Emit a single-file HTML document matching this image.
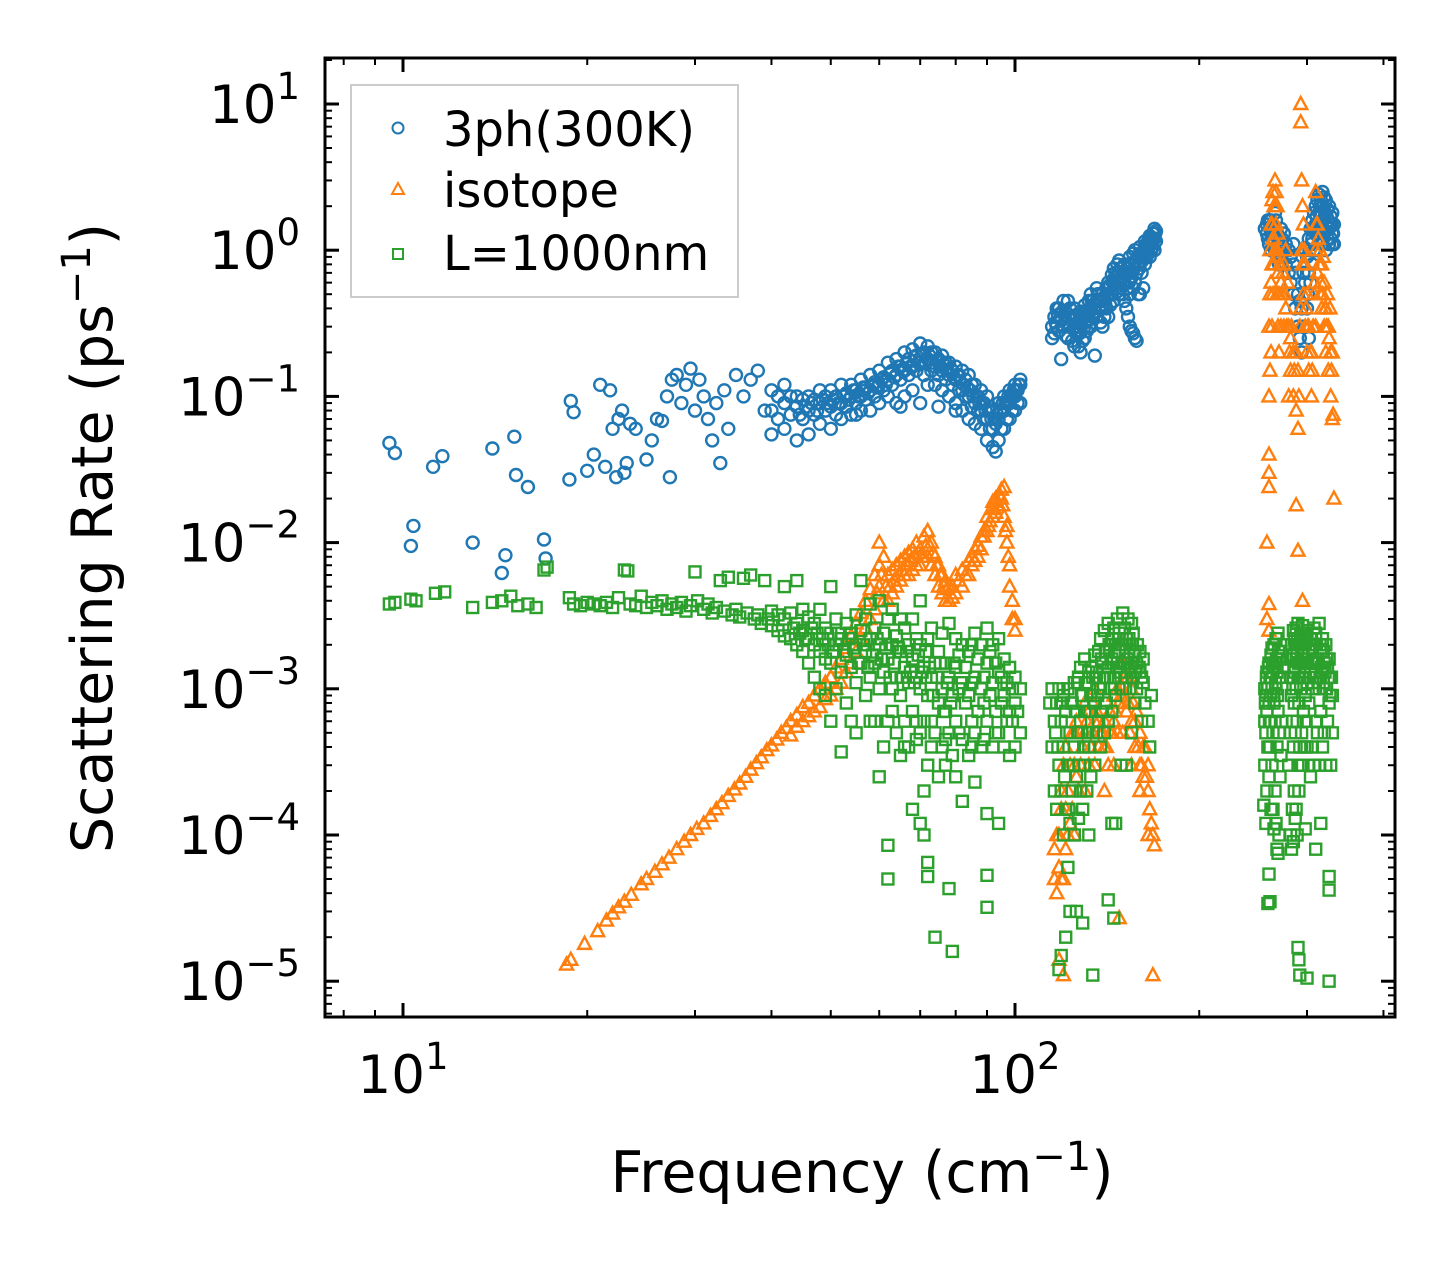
<!DOCTYPE html>
<html><head><meta charset="utf-8">
<style>
html,body{margin:0;padding:0;background:#fff;}
svg{display:block;}
text{font-family:"DejaVu Sans","Liberation Sans",sans-serif;fill:#000;}
</style></head>
<body>
<svg id="chart" width="1455" height="1265" viewBox="0 0 1455 1265" xmlns="http://www.w3.org/2000/svg">
<rect x="0" y="0" width="1455" height="1265" fill="#fff"/>
<g id="marks"></g>
<g id="axes"></g>
<rect x="325" y="58" width="1070" height="959" fill="none" stroke="#000" stroke-width="3"/>
<text x="0" y="0" transform="translate(112,538) rotate(-90)" text-anchor="middle" font-size="57">Scattering Rate (ps<tspan dy="-22" font-size="40">−1</tspan><tspan dy="22">)</tspan></text>
<text x="862" y="1192" text-anchor="middle" font-size="57">Frequency (cm<tspan dy="-22" font-size="40">−1</tspan><tspan dy="22">)</tspan></text>
<g>
<rect x="351" y="85" width="387" height="212" fill="#fff" fill-opacity="0.8" stroke="#ccc" stroke-width="2"/>
<circle cx="398" cy="128" r="5.5" fill="none" stroke="#1f77b4" stroke-width="2"/>
<text x="443" y="146" font-size="48">3ph(300K)</text>
<polygon points="398,183 404,194 392,194" fill="none" stroke="#ff7f0e" stroke-width="2"/>
<text x="443" y="207" font-size="48">isotope</text>
<rect x="393" y="249" width="10" height="10" fill="none" stroke="#2ca02c" stroke-width="2"/>
<text x="443" y="270" font-size="48">L=1000nm</text>
</g>
</svg>
<script>
const xMajorTicks = [10, 100];
const xMinorTicks = [8, 9, 20, 30, 40, 50, 60, 70, 80, 90, 200, 300, 400];
const yExponents = [1, 0, -1, -2, -3, -4, -5];

const pts3ph = [
[9.5,0.048],[9.7,0.041],[10.3,0.0095],[10.4,0.013],[11.2,0.033],[11.6,0.039],[13,0.010],[14,0.044],[14.5,0.0062],[14.7,0.0082],[15.2,0.053],[15.3,0.029],[16,0.024],[17,0.0105],[17.1,0.0078],[18.7,0.027],[18.8,0.093],[19,0.078],[20,0.031],[20.5,0.04],[21,0.12],[21.4,0.033],[21.8,0.11],[22,0.06],[22.3,0.028],[22.5,0.07],[22.8,0.08],[23,0.03],[23.2,0.035],[23.5,0.065],[24,0.06],[25,0.037],[25.5,0.05],[26,0.07],[26.5,0.068],[27,0.1],[27.3,0.028],[27.5,0.13],[28,0.14],[28.5,0.09],[29,0.12],[29.5,0.155],[30,0.08],[30.5,0.13],[31,0.1],[31.5,0.07],[32,0.05],[32.5,0.09],[33,0.035],[33.5,0.11],[34,0.06],[35,0.14],[36,0.1],[37,0.13],[38,0.15],[39,0.08],
[40,0.055],[40,0.08],[40,0.11],[41,0.07],[41,0.1],[42,0.06],[42,0.09],[42,0.12],[43,0.075],[43,0.1],[44,0.05],[44,0.085],[44,0.1],[45,0.07],[45,0.095],[46,0.055],[46,0.08],[46,0.1],[47,0.075],[47,0.095],[48,0.065],[48,0.09],[48,0.11],[49,0.08],[49,0.1],[50,0.06],[50,0.085],[50,0.11],[51,0.075],[51,0.1],[52,0.07],[52,0.09],[52,0.12],[53,0.085],[53,0.105],[54,0.075],[54,0.1],[54,0.12],[55,0.075],[55,0.09],[55,0.11],[56,0.08],[56,0.1],[56,0.13],[57,0.095],[57,0.115],[58,0.08],[58,0.11],[58,0.14],[59,0.1],[59,0.125],[60,0.09],[60,0.12],[60,0.15],[61,0.11],[61,0.135],[62,0.1],[62,0.13],[62,0.17],[63,0.12],[63,0.15],[64,0.09],[64,0.14],[64,0.18],[65,0.085],[65,0.13],[65,0.16],[66,0.1],[66,0.15],[66,0.2],[67,0.14],[67,0.18],[68,0.11],[68,0.16],[68,0.21],[69,0.15],[69,0.19],[70,0.09],[70,0.17],[70,0.23],[71,0.14],[71,0.2],[72,0.12],[72,0.18],[72,0.22],[73,0.15],[73,0.2],[74,0.12],[74,0.16],[74,0.2],[75,0.085],[75,0.14],[75,0.18],[76,0.11],[76,0.15],[76,0.19],[77,0.13],[77,0.17],[78,0.1],[78,0.14],[78,0.17],[79,0.12],[79,0.15],[80,0.08],[80,0.09],[80,0.13],[80,0.16],[81,0.11],[81,0.14],[82,0.08],[82,0.11],[82,0.15],[83,0.1],[83,0.13],[84,0.07],[84,0.1],[84,0.14],[85,0.085],[85,0.12],[86,0.065],[86,0.09],[86,0.12],[87,0.08],[87,0.1],[88,0.06],[88,0.08],[88,0.11],[89,0.07],[89,0.09],[90,0.05],[90,0.07],[90,0.1],[91,0.06],[91,0.085],[92,0.045],[92,0.06],[92,0.08],[93,0.042],[93,0.065],[94,0.05],[94,0.07],[94,0.09],[95,0.06],[95,0.08],[96,0.06],[96,0.08],[96,0.1],[97,0.07],[97,0.09],[98,0.07],[98,0.09],[98,0.11],[99,0.08],[99,0.1],[100,0.08],[100,0.1],[100,0.12],[101,0.09],[101,0.11],[102,0.09],[102,0.12],[102,0.13],
[115,0.25],[115,0.3],[116,0.27],[116,0.35],[117,0.3],[117,0.4],[118,0.28],[118,0.4],[119,0.18],[119,0.33],[120,0.3],[120,0.45],[121,0.26],[121,0.38],[122,0.25],[122,0.35],[122,0.45],[123,0.3],[123,0.4],[124,0.24],[124,0.34],[125,0.22],[125,0.3],[125,0.4],[126,0.27],[126,0.36],[127,0.22],[127,0.32],[128,0.2],[128,0.28],[128,0.38],[129,0.24],[129,0.34],[130,0.25],[130,0.32],[130,0.42],[131,0.28],[131,0.38],[132,0.3],[132,0.45],[133,0.3],[133,0.4],[133,0.5],[134,0.35],[134,0.45],[135,0.19],[135,0.38],[136,0.35],[136,0.45],[136,0.55],[137,0.4],[137,0.5],[138,0.32],[138,0.45],[139,0.3],[139,0.4],[139,0.5],[140,0.35],[140,0.48],[141,0.4],[141,0.55],[142,0.35],[142,0.5],[142,0.6],[143,0.42],[143,0.58],[144,0.5],[144,0.68],[145,0.45],[145,0.6],[145,0.75],[146,0.55],[146,0.7],[147,0.6],[147,0.8],[148,0.5],[148,0.7],[148,0.85],[149,0.55],[149,0.75],[150,0.5],[150,0.7],[151,0.45],[151,0.6],[151,0.8],[152,0.4],[152,0.7],[153,0.35],[153,0.8],[154,0.3],[154,0.5],[154,0.9],[155,0.28],[155,0.65],[156,0.27],[156,0.55],[156,0.95],[157,0.25],[157,0.6],[157,1.0],[158,0.24],[158,0.7],[159,0.5],[159,0.9],[160,0.5],[160,0.8],[160,1.05],[161,0.7],[161,0.95],[162,0.55],[162,0.9],[163,0.8],[163,1.0],[163,1.15],[164,0.9],[164,1.1],[165,0.95],[165,1.15],[166,0.9],[166,1.1],[166,1.25],[167,1.0],[167,1.2],[168,1.05],[168,1.3],[169,1.0],[169,1.2],[169,1.4],[170,1.15],[170,1.35],
[256,1.4],[258,1.3],[258,1.5],[259,1.2],[260,1.1],[260,1.6],[262,1.0],[262,1.3],[262,1.6],[264,1.1],[264,1.5],[266,1.0],[266,1.4],[266,1.8],[268,0.9],[268,1.3],[270,0.8],[270,1.2],[272,0.9],[272,1.4],[275,1.0],[275,1.3],[277,0.8],[277,1.1],[280,0.7],[280,1.0],[282,0.6],[282,0.9],[285,0.5],[285,0.8],[285,1.1],[287,0.4],[287,0.7],[290,0.3],[290,0.5],[292,0.25],[292,0.45],[294,0.2],[294,0.4],[296,0.3],[296,0.7],[298,0.3],[298,0.6],[298,1.0],[300,0.4],[300,0.9],[302,0.25],[302,0.7],[302,1.2],[304,0.6],[304,1.4],[306,0.8],[306,1.2],[306,1.6],[308,1.0],[308,1.8],[310,1.0],[310,1.5],[310,2.0],[312,1.3],[312,2.2],[314,1.2],[314,1.8],[314,2.4],[316,1.4],[316,2.2],[318,1.1],[318,1.6],[318,2.5],[320,1.3],[320,2.3],[322,1.0],[322,1.5],[322,2.2],[324,1.2],[324,1.9],[326,1.1],[326,1.4],[326,2.0],[328,1.2],[328,1.7],[330,1.1],[330,1.3],[330,1.8],[332,1.1],[332,1.5]
];
const pts3phDense = [
[44.5,0.075],[45.5,0.085],[46.5,0.09],[47.5,0.08],[48.5,0.095],[49.5,0.09],[50.5,0.095],[51.5,0.09],[52.5,0.1],[53.5,0.095],[54.5,0.11],[55.5,0.1],[56.5,0.115],[57.5,0.105],[58.5,0.12],[59.5,0.115],[60.5,0.13],[61.5,0.12],[62.5,0.145],[63.5,0.135],[64.5,0.16],[65.5,0.15],[66.5,0.17],[67.5,0.16],[68.5,0.185],[69.5,0.17],[70.5,0.19],[71.5,0.17],[72.5,0.19],[73.5,0.17],[74.5,0.175],[75.5,0.16],[76.5,0.165],[77.5,0.15],[78.5,0.155],[79.5,0.135],[80.5,0.14],[81.5,0.125],[82.5,0.12],[83.5,0.115],[84.5,0.11],[85.5,0.1],[86.5,0.1],[87.5,0.09],[88.5,0.09],[89.5,0.08],[90.5,0.08],[91.5,0.07],[92.5,0.07],[93.5,0.075],[94.5,0.08],[95.5,0.09],[96.5,0.09],[97.5,0.1],[98.5,0.1],[99.5,0.11],[100.5,0.11],[101.5,0.12],
[116.5,0.32],[117.5,0.36],[118.5,0.34],[119.5,0.38],[120.5,0.36],[121.5,0.32],[122.5,0.3],[123.5,0.35],[124.5,0.29],[125.5,0.35],[126.5,0.3],[127.5,0.27],[128.5,0.33],[129.5,0.29],[130.5,0.37],[131.5,0.33],[132.5,0.38],[133.5,0.45],[134.5,0.4],[135.5,0.42],[136.5,0.5],[137.5,0.45],[138.5,0.4],[139.5,0.45],[140.5,0.42],[141.5,0.48],[142.5,0.55],[143.5,0.5],[144.5,0.6],[145.5,0.65],[146.5,0.62],[147.5,0.7],[148.5,0.6],[149.5,0.65],[150.5,0.6],[151.5,0.7],[152.5,0.55],[153.5,0.6],[154.5,0.7],[155.5,0.8],[156.5,0.75],[157.5,0.85],[158.5,0.9],[159.5,0.75],[160.5,0.95],[161.5,0.85],[162.5,1.0],[163.5,1.05],[164.5,1.0],[165.5,1.05],[166.5,1.2],[167.5,1.1],[168.5,1.2],[169.5,1.3],
[259,1.6],[261,1.4],[263,1.2],[265,1.3],[267,1.6],[269,1.1],[271,1.0],[273,1.2],[301,0.5],[303,1.0],[305,1.1],[307,1.4],[309,1.3],[311,1.7],[313,1.5],[315,2.0],[317,1.8],[319,2.0],[321,1.8],[323,1.7],[325,1.6],[327,1.5],[329,1.5],[331,1.3]
];

const ptsIso = [
[18.5,1.3e-5],[18.8,1.4e-5],[19.8,1.8e-5],[20.8,2.2e-5],[21.5,2.6e-5],[22,2.9e-5],[22.5,3.2e-5],[23,3.5e-5],[23.6,3.9e-5],[24.5,4.6e-5],[25,5e-5],[25.8,5.6e-5],[26.5,6.3e-5],[27.2,7e-5],[28,8e-5],[28.8,9e-5],[29.5,1e-4],[30.2,1.1e-4],[31,1.2e-4],[31.8,1.35e-4],[32.5,1.5e-4],[33.2,1.65e-4],[34,1.85e-4],[34.8,2.05e-4],[35.5,2.25e-4],[36.3,2.5e-4],[37,2.8e-4],[37.8,3.1e-4],[38.5,3.4e-4],[39.3,3.8e-4],[40,4.1e-4],[40.8,4.5e-4],[41.5,5e-4],[42.3,5.4e-4],[43,4.8e-4],[43,6e-4],[44,5.5e-4],[44,6.6e-4],[45,6e-4],[45,7.5e-4],[46,6.5e-4],[46,8e-4],[47,7e-4],[47,9e-4],[48,7.5e-4],[48,1e-3],[49,8.5e-4],[49,1.1e-3],[50,9e-4],[50,1.2e-3],[51,1e-3],[51,1.4e-3],[52,1.1e-3],[52,1.6e-3],[53,1.3e-3],[53,1.9e-3],[54,1.5e-3],[54,2.3e-3],[55,1.8e-3],[55,2.8e-3],[56,2.2e-3],[56,3.3e-3],[57,2.6e-3],[57,4e-3],[58,3e-3],[58,4.8e-3],[59,3.5e-3],[59,6e-3],[60,5e-3],[60,7e-3],[60,1e-2],[61,4e-3],[61,8e-3],[62,4e-3],[62,6e-3],[63,4.5e-3],[63,6.5e-3],[64,5e-3],[64,7e-3],[65,5.5e-3],[65,7.5e-3],[66,6e-3],[66,8e-3],[67,6e-3],[67,8.5e-3],[68,6.5e-3],[68,9e-3],[69,7e-3],[69,1e-2],[70,7e-3],[70,9e-3],[71,8e-3],[71,1.1e-2],[72,8e-3],[72,1.2e-2],[73,7e-3],[73,1e-2],[74,6e-3],[74,8e-3],[75,5e-3],[75,7e-3],[76,4.5e-3],[76,6e-3],[77,4e-3],[77,5.5e-3],[78,4e-3],[78,5e-3],[79,4.2e-3],[80,4.5e-3],[80,6e-3],[82,5e-3],[82,6.5e-3],[84,6e-3],[84,7.5e-3],[85,7e-3],[86,7.5e-3],[86,9e-3],[87,8e-3],[88,9e-3],[88,1.1e-2],[89,1.1e-2],[90,1.2e-2],[90,1.5e-2],[91,1.4e-2],[92,1.5e-2],[92,1.9e-2],[93,1.6e-2],[93,2e-2],[94,1.8e-2],[95,2e-2],[95,2.3e-2],[96,1.5e-2],[96,2.4e-2],[97,1e-2],[97,1.3e-2],[98,5e-3],[98,7e-3],[99,4e-3],[99,3e-3],[100,2.5e-3],[100,3e-3],
[116,5e-5],[116,8e-5],[117,4e-5],[117,1e-4],[118,1.4e-5],[118,6e-5],[119,5e-5],[119,1.5e-4],[120,1.1e-5],[120,5e-5],[120,3e-4],[121,8e-5],[122,1e-4],[122,2e-4],[123,1.2e-4],[124,1.5e-4],[125,1e-4],[125,3e-4],[125,5e-4],[127,2e-4],[128,3e-4],[130,2e-4],[130,5e-4],[130,8e-4],[132,3e-4],[133,4e-4],[135,3e-4],[135,6e-4],[135,1e-3],[137,4e-4],[138,5e-4],[140,2e-4],[140,4e-4],[140,6e-4],[142,3e-4],[143,5e-4],[145,3e-4],[145,6e-4],[145,9e-4],[147,5e-4],[148,2.7e-5],[148,8e-4],[150,5e-4],[150,1e-3],[150,1.5e-3],[152,7e-4],[153,1.2e-3],[155,3e-4],[155,6e-4],[155,1e-3],[157,4e-4],[158,7e-4],[160,2e-4],[160,3e-4],[160,5e-4],[162,2.5e-4],[163,4e-4],[165,1e-4],[165,2e-4],[165,3e-4],[167,1.2e-4],[168,1e-4],[168,1.1e-5],[169,8.5e-5],
[258,3e-3],[258,1e-2],[260,2.5e-3],[260,3.8e-3],[260,0.024],[260,0.03],[260,0.04],[260,0.1],[260,0.3],[261,0.15],[261,0.5],[262,0.2],[262,0.6],[263,0.3],[263,0.8],[263,1.5],[264,0.5],[264,1.2],[265,0.8],[265,2.0],[266,1],[266,2],[266,3],[267,1.5],[267,2.5],[268,0.5],[268,1],[268,2],[269,0.3],[269,0.7],[270,0.2],[270,0.5],[272,0.3],[272,0.6],[275,0.3],[275,0.8],[277,0.4],[277,1.0],[280,0.1],[280,0.3],[282,0.15],[282,0.25],[285,0.1],[285,0.2],[288,0.018],[288,0.08],[290,0.0088],[290,0.06],[290,0.15],[292,0.3],[293,7.5],[293,10],[294,1],[294,3],[295,0.004],[295,0.8],[295,2],[296,0.5],[296,1.5],[298,0.3],[298,0.8],[300,0.2],[300,0.5],[302,0.15],[302,0.3],[305,0.1],[305,0.2],[307,0.3],[308,0.5],[310,0.3],[310,1],[310,2.5],[312,0.7],[312,1.5],[315,0.5],[315,1],[317,0.4],[317,0.8],[320,0.3],[320,0.6],[322,0.2],[322,0.4],[325,0.15],[325,0.3],[328,0.1],[328,0.2],[330,0.07],[330,0.2],[331,0.075],[332,0.02]
];
const ptsIsoDense = [
[59.5,4.5e-3],[60.5,6e-3],[61.5,5e-3],[62.5,5e-3],[63.5,5.5e-3],[64.5,6e-3],[65.5,6.5e-3],[66.5,7e-3],[67.5,7.5e-3],[68.5,8e-3],[69.5,8.5e-3],[70.5,8e-3],[71.5,9.5e-3],[72.5,9.5e-3],[73.5,8.5e-3],[74.5,7e-3],[75.5,6e-3],[76.5,5e-3],[77.5,4.8e-3],[79,5e-3],[81,5.5e-3],[83,6e-3],[85,8e-3],[87,9.5e-3],[89,1.2e-2],[90.5,1.3e-2],[91.5,1.7e-2],[92.5,1.7e-2],[93.5,1.8e-2],[94.5,2.1e-2],[95.5,1.8e-2],[96.5,1.2e-2],[97.5,8e-3],
[118,1e-4],[119,2e-4],[121,1.5e-4],[121,4e-4],[123,3e-4],[124,5e-4],[126,2.5e-4],[126,6e-4],[128,5e-4],[129,4e-4],[131,6e-4],[132,7e-4],[134,5e-4],[134,8e-4],[136,7e-4],[137,6e-4],[139,5e-4],[141,4e-4],[143,7e-4],[144,5e-4],[146,7e-4],[147,1e-3],[149,9e-4],[151,8e-4],[151,1.2e-3],[153,8e-4],[154,5e-4],[156,8e-4],[157,6e-4],[159,4e-4],[161,3e-4],[162,4e-4],[164,2.5e-4],[166,1.5e-4],
[261,1],[262,1.5],[263,2.2],[264,2.5],[265,1.2],[267,0.9],[269,1.3],[271,0.8],[273,0.5],[274,0.7],[276,0.5],[278,0.3],[279,0.6],[281,0.2],[283,0.3],[286,0.15],[288,0.2],[291,0.1],[293,0.4],[297,1.0],[299,0.4],[301,0.3],[304,0.2],[306,0.15],[309,0.6],[311,1.5],[313,1.2],[314,0.8],[316,0.6],[318,0.5],[319,0.9],[321,0.4],[323,0.3],[324,0.5],[326,0.25],[327,0.4],[329,0.15]
];

const ptsBnd = [
[9.5,3.8e-3],[9.7,3.9e-3],[10.3,4.1e-3],[10.5,4.0e-3],[11.3,4.5e-3],[11.7,4.6e-3],[13,3.6e-3],[14,3.9e-3],[14.5,4.0e-3],[15,4.3e-3],[15.4,3.7e-3],[16,3.8e-3],[16.5,3.6e-3],[17,6.5e-3],[17.2,6.8e-3],[18.7,4.2e-3],[19,3.8e-3],[19.5,3.7e-3],[20,3.9e-3],[20.5,3.8e-3],[21,3.7e-3],[21.5,3.9e-3],[22,3.6e-3],[22.5,4.2e-3],[23,6.5e-3],[23.3,6.4e-3],[23.5,3.8e-3],[24,3.7e-3],[24.5,4.3e-3],[25,3.6e-3],[25.5,3.9e-3],[26,3.7e-3],[26.5,4e-3],[27,3.5e-3],[27.5,3.8e-3],[28,3.6e-3],[28.5,3.9e-3],[29,3.4e-3],[29.5,3.7e-3],[30,6.3e-3],[30.3,4e-3],[31,3.5e-3],[31.5,3.8e-3],[32,3.3e-3],[32.5,3.6e-3],[33,5.5e-3],[33.5,3.4e-3],[34,5.8e-3],[34.5,3.2e-3],[35,3.5e-3],[35.5,3.1e-3],[36,5.7e-3],[36.5,3.3e-3],[37,6e-3],[37.5,3e-3],[38,3.2e-3],[38.5,2.8e-3],[39,5.5e-3],[39.5,3e-3],[40,2.7e-3],[40,3.4e-3],[41,2.5e-3],[41,3.2e-3],[42,2.3e-3],[42,3e-3],[42,5e-3],[43,2.2e-3],[43,3.3e-3],[44,2e-3],[44,2.8e-3],[44,5.5e-3],[45,1.8e-3],[45,2.5e-3],[45,3.5e-3],[46,1.5e-3],[46,2.2e-3],[46,3.1e-3],[47,1.2e-3],[47,2e-3],[47,2.8e-3],[48,1e-3],[48,1.8e-3],[48,3.5e-3],[49,9e-4],[49,1.6e-3],[49,2.6e-3],[50,6e-4],[50,1.5e-3],[50,2.4e-3],[50,5e-3],[51,1e-3],[51,2e-3],[51,3e-3],[52,3.7e-4],[52,1.3e-3],[52,2.2e-3],[53,8e-4],[53,1.7e-3],[53,2.8e-3],[54,6e-4],[54,1.4e-3],[54,2.4e-3],[55,1.1e-3],[55,2e-3],[55,3.2e-3],[56,1.5e-3],[56,2.5e-3],[56,5.5e-3],[57,9e-4],[57,1.8e-3],[57,3e-3],[58,1.2e-3],[58,2.2e-3],[58,3.8e-3],[59,6e-4],[59,1.5e-3],[59,2.6e-3],[60,2.5e-4],[60,1e-3],[60,2e-3],[60,4e-3],[61,4e-4],[61,1.3e-3],[61,2.4e-3],[62,8.5e-5],[62,5e-5],[62,6e-4],[62,1.6e-3],[62,3e-3],[63,1e-3],[63,2e-3],[63,3.5e-3],[64,5e-4],[64,1.2e-3],[64,2.3e-3],[65,3.5e-4],[65,9e-4],[65,1.8e-3],[65,3e-3],[66,6e-4],[66,1.4e-3],[66,2.6e-3],[67,4e-4],[67,1.1e-3],[67,2e-3],[68,1.5e-4],[68,7e-4],[68,1.6e-3],[68,3e-3],[69,4.5e-4],[69,1.2e-3],[69,2.2e-3],[70,1.2e-4],[70,5e-4],[70,1e-3],[70,2e-3],[70,4e-3],[71,1e-4],[71,2e-4],[71,6e-4],[71,1.4e-3],[72,6.5e-5],[72,5.2e-5],[72,3e-4],[72,9e-4],[72,2.2e-3],[73,4e-4],[73,1.2e-3],[73,2.6e-3],[74,2e-5],[74,5e-4],[74,1.5e-3],[75,2.5e-4],[75,8e-4],[75,1.8e-3],[76,4e-4],[76,1e-3],[76,2.4e-3],[77,3e-4],[77,7e-4],[77,1.5e-3],[78,4.3e-5],[78,5e-4],[78,1.2e-3],[78,2.8e-3],[79,1.6e-5],[79,3.5e-4],[79,9e-4],[80,2.5e-4],[80,6e-4],[80,1.4e-3],[80,2.2e-3],[82,1.7e-4],[82,4.5e-4],[82,1.1e-3],[82,2e-3],[84,3.5e-4],[84,9e-4],[84,1.8e-3],[86,2.3e-4],[86,5e-4],[86,1.2e-3],[86,2.4e-3],[88,4e-4],[88,1e-3],[88,2e-3],[90,3.2e-5],[90,5.3e-5],[90,1.4e-4],[90,6e-4],[90,1.5e-3],[90,2.6e-3],[92,4e-4],[92,1.1e-3],[92,2e-3],[94,1.2e-4],[94,5e-4],[94,1.3e-3],[94,2.2e-3],[96,4e-4],[96,9e-4],[96,1.6e-3],[98,3.5e-4],[98,7e-4],[98,1.4e-3],[100,4e-4],[100,8e-4],[100,1.2e-3],[102,5e-4],[102,1e-3],
[114,8e-4],[115,4e-4],[115,1e-3],[116,2e-4],[116,6e-4],[117,1.5e-4],[117,8e-4],[118,1.2e-5],[118,3e-4],[118,1e-3],[119,1.5e-5],[119,2e-4],[119,6e-4],[120,1e-4],[120,4e-4],[120,9e-4],[121,2e-5],[121,1.5e-4],[121,7e-4],[122,6e-5],[122,3e-4],[122,1e-3],[123,3e-5],[123,1.2e-4],[123,5e-4],[124,2e-4],[124,8e-4],[125,1e-4],[125,4e-4],[125,1.1e-3],[126,3e-5],[126,2.5e-4],[126,7e-4],[127,1.3e-4],[127,5e-4],[127,1.2e-3],[128,2e-4],[128,6e-4],[128,1.4e-3],[129,2.5e-5],[129,1.5e-4],[129,9e-4],[130,3e-4],[130,7e-4],[130,1.6e-3],[131,2e-4],[131,1.1e-3],[132,1e-4],[132,4e-4],[132,1.3e-3],[133,2.5e-4],[133,9e-4],[134,1.1e-5],[134,5e-4],[134,1.2e-3],[135,3e-4],[135,8e-4],[135,1.7e-3],[136,5e-4],[136,1.3e-3],[137,6e-4],[137,1.8e-3],[138,4e-4],[138,1e-3],[138,2.2e-3],[139,7e-4],[139,1.5e-3],[140,5e-4],[140,1.2e-3],[140,2.5e-3],[141,8e-4],[141,1.8e-3],[142,3.6e-5],[142,6e-4],[142,1.4e-3],[142,2.8e-3],[143,1e-3],[143,2e-3],[144,1.2e-4],[144,7e-4],[144,1.6e-3],[145,2.7e-5],[145,1.2e-3],[145,2.6e-3],[146,1.2e-4],[146,9e-4],[146,2e-3],[147,1.5e-3],[147,3e-3],[148,1.8e-3],[148,2.4e-3],[149,3e-4],[149,1.2e-3],[150,1e-3],[150,2e-3],[150,3.3e-3],[151,1.5e-3],[151,2.6e-3],[152,3e-4],[152,1.2e-3],[152,2.2e-3],[153,1.6e-3],[153,3e-3],[154,1e-3],[154,2e-3],[155,5e-4],[155,1.5e-3],[155,2.8e-3],[156,1.2e-3],[156,2.4e-3],[157,8e-4],[157,1.8e-3],[158,1e-3],[158,1.5e-3],[160,1.3e-3],[160,1.8e-3],[161,6e-4],[162,1.1e-3],[163,8e-4],[165,6e-4],[166,4e-4],[167,9e-4],
[255,1.6e-4],[256,3e-4],[256,6e-4],[256,1e-3],[257,1.2e-4],[257,5e-4],[257,9e-4],[258,2e-4],[258,7e-4],[258,1.3e-3],[259,3.4e-5],[259,4e-4],[259,1e-3],[260,5.4e-5],[260,2.5e-4],[260,8e-4],[260,1.5e-3],[261,3.5e-5],[261,4e-4],[261,1.2e-3],[262,1.5e-4],[262,6e-4],[262,1.7e-3],[263,3e-4],[263,1e-3],[263,1.9e-3],[264,1.5e-4],[264,5e-4],[264,1.3e-3],[265,1.1e-4],[265,8e-4],[265,2e-3],[266,2e-4],[266,6e-4],[266,1.5e-3],[267,1.2e-4],[267,1e-3],[267,2.2e-3],[268,8e-5],[268,4e-4],[268,1.3e-3],[269,7.5e-5],[269,7e-4],[269,2.4e-3],[270,1e-4],[270,5e-4],[270,1.6e-3],[271,2.5e-4],[271,1.2e-3],[272,3.5e-4],[272,1.8e-3],[273,6e-4],[274,1.4e-3],[275,2e-3],[280,3e-4],[282,1e-4],[282,5e-4],[282,1.2e-3],[283,8e-5],[283,9e-4],[283,2e-3],[284,1.5e-4],[284,6e-4],[284,1.6e-3],[285,9e-5],[285,4e-4],[285,1.2e-3],[285,2.5e-3],[286,2e-4],[286,8e-4],[286,2.2e-3],[287,1.3e-4],[287,5e-4],[287,1.4e-3],[288,1.5e-4],[288,1e-3],[288,2.6e-3],[289,1e-4],[289,6e-4],[289,1.8e-3],[290,1.7e-5],[290,3e-4],[290,1.2e-3],[290,2.8e-3],[291,1.4e-5],[291,2e-4],[291,8e-4],[291,2e-3],[292,1.1e-5],[292,4e-4],[292,1.5e-3],[293,3e-4],[293,1e-3],[293,2.4e-3],[294,5e-4],[294,1.7e-3],[295,3e-4],[295,1.2e-3],[295,2.7e-3],[296,7e-4],[296,2e-3],[297,4e-4],[297,1.4e-3],[298,1.1e-4],[298,9e-4],[298,2.3e-3],[299,6e-4],[299,1.6e-3],[300,1.05e-5],[300,4e-4],[300,1.1e-3],[300,2.5e-3],[302,3e-4],[302,8e-4],[302,1.8e-3],[304,2.5e-4],[304,1.3e-3],[304,2.2e-3],[306,4e-4],[306,1e-3],[306,2e-3],[308,3e-4],[308,1.5e-3],[308,2.6e-3],[310,8e-5],[310,6e-4],[310,1.2e-3],[310,2.4e-3],[312,5e-4],[312,1.6e-3],[314,3e-4],[314,1e-3],[314,2.8e-3],[316,1.2e-4],[316,7e-4],[316,1.8e-3],[318,4e-4],[318,1.3e-3],[318,2.2e-3],[320,5e-4],[320,1.5e-3],[322,3e-4],[322,1e-3],[322,2e-3],[324,6e-4],[324,1.4e-3],[326,5.2e-5],[326,4.2e-5],[326,1e-5],[326,8e-4],[326,1.6e-3],[328,3e-4],[328,1.2e-3],[330,5e-4],[330,9e-4]
];
const ptsBndDense = [
[43.5,2.6e-3],[44.5,2.4e-3],[45.5,2.2e-3],[46.5,2.6e-3],[47.5,2.4e-3],[48.5,2.2e-3],[49.5,2e-3],[50.5,1.8e-3],[51.5,2.4e-3],[52.5,1.8e-3],[53.5,2.2e-3],[54.5,1.9e-3],[55.5,1.5e-3],[56.5,2e-3],[57.5,1.4e-3],[58.5,1.7e-3],[59.5,2.2e-3],[60.5,1.6e-3],[61.5,1.9e-3],[62.5,1.2e-3],[63.5,1.5e-3],[64.5,1.9e-3],[65.5,1.2e-3],[66.5,1.8e-3],[67.5,1.3e-3],[68.5,1.1e-3],[69.5,1.7e-3],[70.5,1.3e-3],[71.5,1.8e-3],[72.5,1.4e-3],[73.5,9e-4],[74.5,1.2e-3],[75.5,1.5e-3],[76.5,7e-4],[77.5,1.1e-3],[78.5,8e-4],[79.5,1.5e-3],[81,1e-3],[81,1.7e-3],[83,8e-4],[83,1.4e-3],[85,6e-4],[85,1.1e-3],[85,2e-3],[87,7e-4],[87,1.6e-3],[89,8e-4],[89,1.2e-3],[91,9e-4],[91,1.8e-3],[93,7e-4],[93,1.5e-3],[95,8e-4],[95,1.2e-3],[97,6e-4],[97,1.1e-3],[99,6e-4],[99,1e-3],[101,7e-4],
[55,5e-4],[58,6e-4],[63,7e-4],[66,4e-4],[69,6e-4],[73,6e-4],[77,4.5e-4],[81,5e-4],[85,4e-4],[89,4.5e-4],[93,5e-4],
[116.5,5e-4],[117.5,4e-4],[119.5,8e-4],[120.5,2.5e-4],[121.5,5e-4],[122.5,1.5e-4],[123.5,8e-4],[124.5,3e-4],[125.5,7e-4],[126.5,1.1e-3],[127.5,3e-4],[128.5,9e-4],[129.5,4e-4],[130.5,1.1e-3],[131.5,5e-4],[132.5,7e-4],[133.5,1.4e-3],[134.5,8e-4],[135.5,1.2e-3],[136.5,9e-4],[137.5,1.2e-3],[138.5,1.6e-3],[139.5,1e-3],[140.5,1.8e-3],[141.5,1.2e-3],[142.5,2e-3],[143.5,1.5e-3],[144.5,2.2e-3],[145.5,1.8e-3],[146.5,1.4e-3],[147.5,2.2e-3],[148.5,1.3e-3],[149.5,2e-3],[150.5,1.5e-3],[151.5,2e-3],[152.5,1.6e-3],[153.5,2.2e-3],[154.5,1.4e-3],[155.5,2e-3],[156.5,1.7e-3],[157.5,1.3e-3],[158.5,2e-3],[159.5,1.4e-3],[161,1.2e-3],[162,1.6e-3],
[256.5,8e-4],[257.5,1.2e-3],[258.5,1e-3],[259.5,1.4e-3],[260.5,6e-4],[261.5,9e-4],[262.5,1.2e-3],[263.5,1.5e-3],[264.5,9e-4],[265.5,1.4e-3],[266.5,1.1e-3],[267.5,1.6e-3],[268.5,9e-4],[269.5,1.8e-3],[270.5,1.2e-3],[271.5,1.6e-3],[284.5,1e-3],[285.5,1.7e-3],[286.5,1.3e-3],[287.5,2e-3],[288.5,1.6e-3],[289.5,2.2e-3],[290.5,1.5e-3],[291.5,1.2e-3],[292.5,2e-3],[293.5,1.6e-3],[294.5,2.2e-3],[295.5,1.8e-3],[296.5,1.2e-3],[297.5,2e-3],[298.5,1.5e-3],[299.5,2.2e-3],[301,1.5e-3],[303,1.2e-3],[303,2e-3],[305,1.5e-3],[307,1.1e-3],[307,2e-3],[309,1.6e-3],[311,1.2e-3],[311,2e-3],[313,1.5e-3],[315,1.2e-3],[315,2e-3],[317,1.4e-3],[319,1.1e-3],[319,1.8e-3],[321,1.3e-3],[323,1e-3],[323,1.6e-3],[325,1.2e-3],[327,9e-4],[329,1.2e-3]
];

const NS = 'http://www.w3.org/2000/svg';
const L = 325, R = 1395, T = 58, B = 1017;
function xScale(f){ return 403 + (Math.log10(f) - 1) * 612; }
function yScale(v){ return 104 + (1 - Math.log10(v)) * 146.2; }

const marks = document.getElementById('marks');
const axes = document.getElementById('axes');

function mk(tag, attrs, parent){
  const el = document.createElementNS(NS, tag);
  for (const k in attrs) el.setAttribute(k, attrs[k]);
  parent.appendChild(el);
  return el;
}

const g1 = mk('g', {fill:'none', stroke:'#1f77b4', 'stroke-width':'2.4'}, marks);


pts3ph.concat(pts3phDense).forEach(p => {
  const c = mk('circle', {cx:xScale(p[0]).toFixed(1), cy:yScale(p[1]).toFixed(1), r:6}, g1);
  
  
});

const g2 = mk('g', {fill:'none', stroke:'#ff7f0e', 'stroke-width':'2.4'}, marks);


ptsIso.concat(ptsIsoDense).forEach(p => {
  const x = xScale(p[0]), y = yScale(p[1]);
  const t = mk('polygon', {points:`${x},${y-7} ${x+6.5},${y+5} ${x-6.5},${y+5}`}, g2);
  
  
});

const g3 = mk('g', {fill:'none', stroke:'#2ca02c', 'stroke-width':'2.4'}, marks);


ptsBnd.concat(ptsBndDense).forEach(p => {
  const x = xScale(p[0]), y = yScale(p[1]);
  const s = mk('rect', {x:(x-5.5).toFixed(1), y:(y-5.5).toFixed(1), width:11, height:11}, g3);
  
  
});

// x ticks
xMajorTicks.forEach(f => {
  const x = xScale(f);
  mk('line', {x1:x, x2:x, y1:B, y2:B-14, stroke:'#000', 'stroke-width':3}, axes);
  mk('line', {x1:x, x2:x, y1:T, y2:T+14, stroke:'#000', 'stroke-width':3}, axes);
  const t = mk('text', {x:x, y:1093, 'text-anchor':'middle', 'font-size':53}, axes);
  
  
  const e = Math.round(Math.log10(f));
  t.innerHTML = `10<tspan dy="-24" font-size="37">${e}</tspan>`;
});
xMinorTicks.forEach(f => {
  const x = xScale(f);
  if (x < L || x > R) return;
  mk('line', {x1:x, x2:x, y1:B, y2:B-7, stroke:'#000', 'stroke-width':2}, axes);
  mk('line', {x1:x, x2:x, y1:T, y2:T+7, stroke:'#000', 'stroke-width':2}, axes);
});
// y ticks
yExponents.forEach(e => {
  const y = yScale(Math.pow(10, e));
  mk('line', {x1:L, x2:L+14, y1:y, y2:y, stroke:'#000', 'stroke-width':3}, axes);
  mk('line', {x1:R, x2:R-14, y1:y, y2:y, stroke:'#000', 'stroke-width':3}, axes);
  const t = mk('text', {x:300, y:y+19, 'text-anchor':'end', 'font-size':53}, axes);
  
  
  const lab = e < 0 ? '−' + (-e) : String(e);
  t.innerHTML = `10<tspan dy="-24" font-size="37">${lab}</tspan>`;
});
for (let e = -6; e <= 1; e++) {
  for (let m = 2; m <= 9; m++) {
    const y = yScale(m * Math.pow(10, e));
    if (y < T || y > B) continue;
    mk('line', {x1:L, x2:L+7, y1:y, y2:y, stroke:'#000', 'stroke-width':2}, axes);
    mk('line', {x1:R, x2:R-7, y1:y, y2:y, stroke:'#000', 'stroke-width':2}, axes);
  }
}
</script>
</body></html>
